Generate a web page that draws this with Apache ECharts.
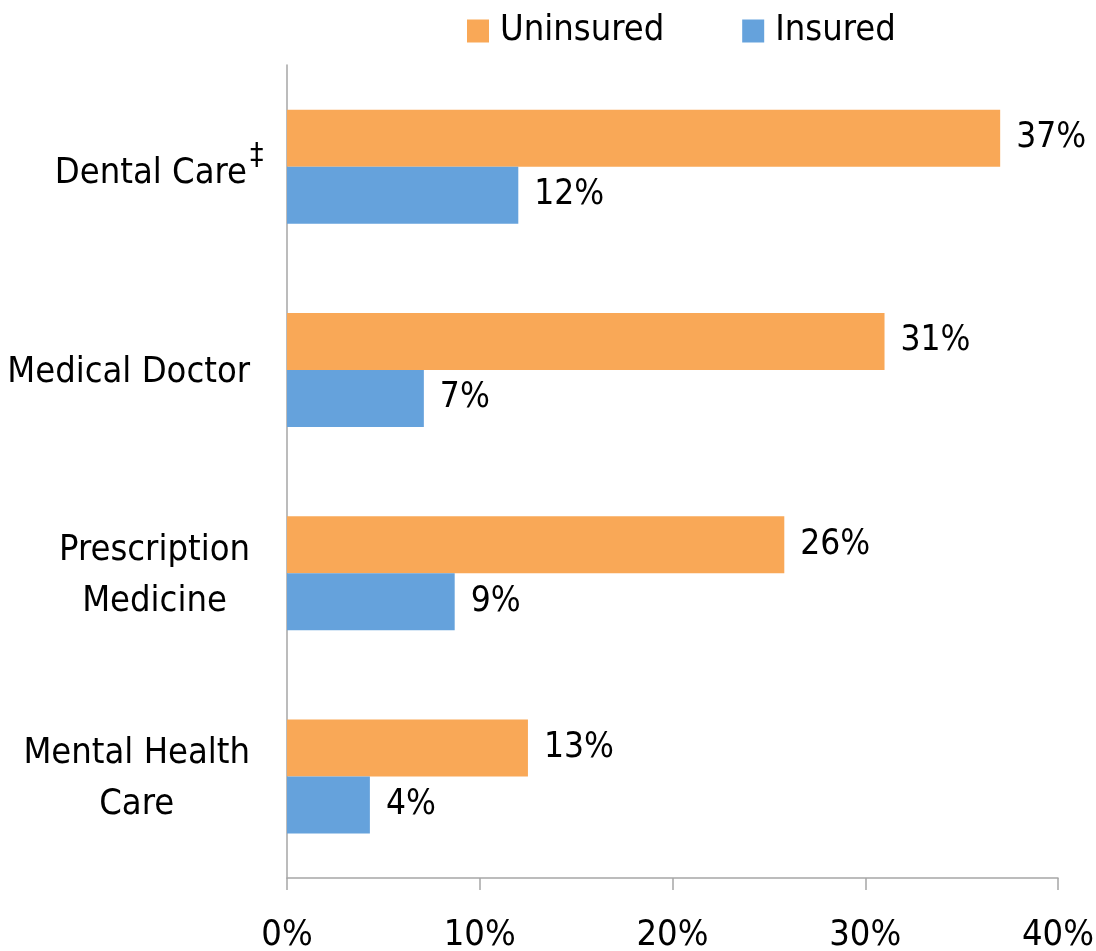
<!DOCTYPE html>
<html>
<head>
<meta charset="utf-8">
<script src="https://cdn.jsdelivr.net/npm/echarts@6/dist/echarts.min.js"></script>
<style>
html,body{margin:0;padding:0;background:#fff;}
#chart{width:1096px;height:951px;}
</style>
</head>
<body>
<div id="chart"></div>
<script>
const categories = ['Dental Care', 'Medical Doctor', 'Prescription Medicine', 'Mental Health Care'];
const uninsured = [37.0, 31.0, 25.8, 12.5];
const insured = [12.0, 7.1, 8.7, 4.3];
const uninsuredLabels = ['37%', '31%', '26%', '13%'];
const insuredLabels = ['12%', '7%', '9%', '4%'];
const xTicks = [0, 10, 20, 30, 40];

const FONT = '"DejaVu Sans Condensed", "Liberation Sans Narrow", sans-serif';
const ORANGE = '#F9A857';
const BLUE = '#65A2DC';

const catLabelText = {
  'Dental Care': '{d|Dental Care}{sup|‡}',
  'Medical Doctor': '{c|Medical Doctor}',
  'Prescription Medicine': '{c|Prescription}\n{c|Medicine}',
  'Mental Health Care': '{c|Mental Health}\n{c|Care}'
};

const chart = echarts.init(document.getElementById('chart'));
chart.setOption({
  animation: false,
  textStyle: { fontFamily: FONT },
  legend: {
    data: ['Uninsured', 'Insured'],
    left: 462, top: 8,
    itemWidth: 22, itemHeight: 23,
    itemGap: 78,
    icon: 'rect',
    textStyle: { fontFamily: FONT, fontSize: 36, color: '#000', padding: [0, 0, 0, 6] }
  },
  grid: { left: 287, right: 38, top: 65, bottom: 73, containLabel: false, outerBoundsMode: 'none' },
  xAxis: {
    type: 'value', min: 0, max: 40, interval: 10,
    axisLine: { show: true, lineStyle: { color: '#A6A6A6', width: 1.5 } },
    axisTick: { show: true, length: 12, lineStyle: { color: '#A6A6A6', width: 1.5 } },
    splitLine: { show: false },
    axisLabel: {
      margin: 40, fontSize: 36, color: '#000', fontFamily: FONT,
      formatter: v => xTicks.includes(v) ? v + '%' : ''
    }
  },
  yAxis: {
    type: 'category', data: categories, inverse: true,
    axisLine: { show: true, lineStyle: { color: '#A6A6A6', width: 1.5 } },
    axisTick: { show: false },
    axisLabel: {
      margin: 37, fontSize: 36, color: '#000', fontFamily: FONT, lineHeight: 51,
      formatter: v => catLabelText[v],
      rich: {
        c: { fontSize: 36, fontFamily: FONT, color: '#000', align: 'center', lineHeight: 51, padding: [6, 0, 0, 0] },
        d: { fontSize: 36, fontFamily: FONT, color: '#000', align: 'left', lineHeight: 51, padding: [14, 0, 0, 0] },
        sup: { fontSize: 30, fontFamily: FONT, color: '#000', align: 'left', verticalAlign: 'top', width: 0, padding: [0, 0, 24, 3] }
      }
    }
  },
  series: [
    {
      name: 'Uninsured', type: 'bar', data: uninsured,
      barWidth: 57, barGap: '0%', barCategoryGap: '43%',
      itemStyle: { color: ORANGE },
      label: {
        show: true, position: 'right', distance: 16, fontSize: 35, color: '#000', fontFamily: FONT,
        formatter: p => uninsuredLabels[p.dataIndex]
      }
    },
    {
      name: 'Insured', type: 'bar', data: insured,
      barWidth: 57, barGap: '0%', barCategoryGap: '43%',
      itemStyle: { color: BLUE },
      label: {
        show: true, position: 'right', distance: 16, fontSize: 35, color: '#000', fontFamily: FONT,
        formatter: p => insuredLabels[p.dataIndex]
      }
    }
  ]
});
</script>
</body>
</html>
